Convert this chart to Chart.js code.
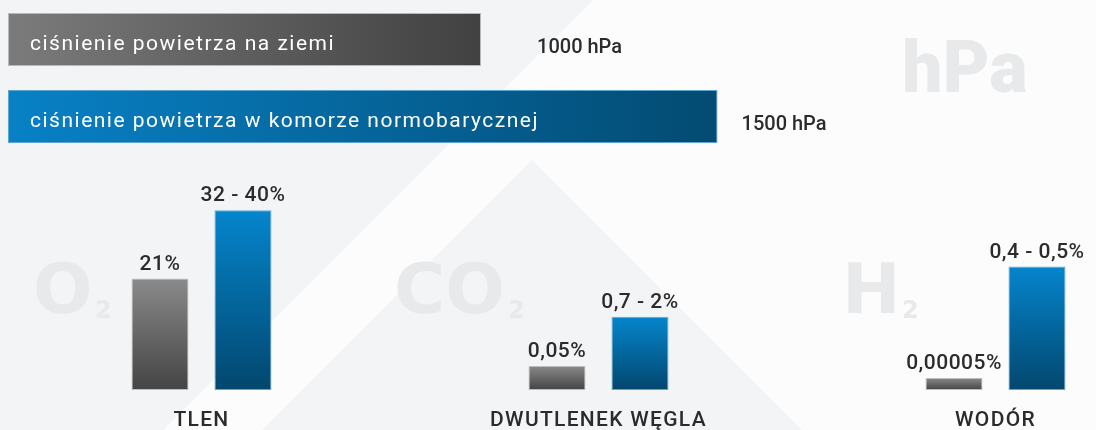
<!DOCTYPE html>
<html>
<head>
<meta charset="utf-8">
<script src="https://cdn.jsdelivr.net/npm/chart.js@4.4.1/dist/chart.umd.min.js"></script>
<style>
  html, body { margin: 0; padding: 0; width: 1096px; height: 430px; overflow: hidden; background: #f3f4f6; }
  #topChart { position: absolute; left: 0; top: 0; }
  #gasChart { position: absolute; left: 3px; top: 160px; }
</style>
</head>
<body>
<canvas id="topChart" width="1096" height="160"></canvas>
<canvas id="gasChart" width="1191" height="291"></canvas>
<script>
// ---------------- DATA ----------------
const pressureLabels = ['ciśnienie powietrza na ziemi', 'ciśnienie powietrza w komorze normobarycznej'];
const pressureValues = [1000, 1500];
const pressureValueLabels = ['1000 hPa', '1500 hPa'];

const gasCategories = ['TLEN', 'DWUTLENEK WĘGLA', 'WODÓR'];
// drawn bar heights (relative units; bars are illustrative, not to scale)
const groundHeights = [62, 13.4, 6.7];
const chamberHeights = [100, 40.8, 68.7];
const groundLabels = ['21%', '0,05%', '0,00005%'];
const chamberLabels = ['32 - 40%', '0,7 - 2%', '0,4 - 0,5%'];

// ---------------- STYLE ----------------
const TEXT = '#2b2b2b';
const GRAY_H = ['#7b7b7b', '#414141'];
const BLUE_H = ['#0881c6', '#034b72'];
const GRAY_V = ['#8a8a8a', '#444444'];
const BLUE_V = ['#0585cc', '#02476e'];
const valueGap = [56, 24];

function paintBackground(ctx, ox, oy) {
  ctx.save();
  ctx.translate(-ox, -oy);
  ctx.fillStyle = '#f3f4f6';
  ctx.fillRect(0, 0, 1300, 460);
  ctx.fillStyle = '#fcfcfd';
  ctx.beginPath();
  ctx.moveTo(593, 0); ctx.lineTo(1300, 0); ctx.lineTo(1300, 460); ctx.lineTo(133, 460);
  ctx.closePath(); ctx.fill();
  ctx.fillStyle = '#f3f4f6';
  ctx.beginPath();
  ctx.moveTo(532, 160); ctx.lineTo(832, 460); ctx.lineTo(232, 460);
  ctx.closePath(); ctx.fill();
  // watermarks
  ctx.fillStyle = '#e8e9ea';
  ctx.textBaseline = 'alphabetic';
  ctx.textAlign = 'left';
  ctx.letterSpacing = '0px';
  ctx.font = '900 72px Roboto';
  ctx.fillText('hPa', 902, 92);
  ctx.font = 'bold 70px "DejaVu Sans"';
  ctx.fillText('O', 33, 313);
  ctx.fillText('CO', 394, 313);
  ctx.fillText('H', 842, 313);
  ctx.font = 'bold 24px "DejaVu Sans"';
  ctx.fillText('2', 95, 318);
  ctx.fillText('2', 508, 318);
  ctx.fillText('2', 902, 318);
  ctx.restore();
}

// ---------------- TOP CHART (pressure) ----------------
function hGradient(context) {
  const chart = context.chart;
  const cols = context.dataIndex === 0 ? GRAY_H : BLUE_H;
  if (!chart.chartArea) return cols[1];
  const xs = chart.scales.x;
  const x0 = xs.getPixelForValue(0), x1 = xs.getPixelForValue(context.raw);
  const g = chart.ctx.createLinearGradient(x0, 0, x1, 0);
  g.addColorStop(0, cols[0]); g.addColorStop(1, cols[1]);
  return g;
}

new Chart(document.getElementById('topChart'), {
  type: 'bar',
  data: {
    labels: pressureLabels,
    datasets: [{
      data: pressureValues,
      backgroundColor: hGradient,
      borderColor: (c) => c.dataIndex === 0 ? '#b9b9b9' : '#5ea6d2',
      borderWidth: 1,
      borderSkipped: false,
      categoryPercentage: 1,
      barPercentage: 0.688
    }]
  },
  options: {
    indexAxis: 'y',
    responsive: false,
    animation: false,
    layout: { padding: { left: 8, right: 0, top: 1, bottom: 5 } },
    plugins: { legend: { display: false }, tooltip: { enabled: false } },
    scales: {
      x: { display: false, min: 0, max: 2300 },
      y: { display: false }
    }
  },
  plugins: [{
    id: 'topDeco',
    beforeDraw(chart) { paintBackground(chart.ctx, 0, 0); },
    afterDatasetsDraw(chart) {
      const ctx = chart.ctx;
      const meta = chart.getDatasetMeta(0);
      ctx.save();
      ctx.textBaseline = 'alphabetic';
      ctx.textAlign = 'left';
      meta.data.forEach((bar, i) => {
        ctx.fillStyle = '#ffffff';
        ctx.font = '21px Roboto';
        ctx.letterSpacing = '1.5px';
        ctx.fillText(pressureLabels[i], bar.base + 22, bar.y + 10);
        ctx.fillStyle = TEXT;
        ctx.font = '500 20px Roboto';
        ctx.letterSpacing = '0px';
        ctx.fillText(pressureValueLabels[i], bar.x + valueGap[i], bar.y + 13.5);
      });
      ctx.restore();
    }
  }]
});

// ---------------- BOTTOM CHART (gases) ----------------
function vGradient(cols) {
  return function (context) {
    const chart = context.chart;
    if (!chart.chartArea) return cols[1];
    const ys = chart.scales.y;
    const y0 = ys.getPixelForValue(context.raw), y1 = ys.getPixelForValue(0);
    const g = chart.ctx.createLinearGradient(0, y0, 0, y1);
    g.addColorStop(0, cols[0]); g.addColorStop(1, cols[1]);
    return g;
  };
}

new Chart(document.getElementById('gasChart'), {
  type: 'bar',
  data: {
    labels: gasCategories,
    datasets: [
      { label: 'na ziemi', data: groundHeights, backgroundColor: vGradient(GRAY_V), borderColor: '#bdbdbd', borderWidth: 1, borderSkipped: false },
      { label: 'w komorze', data: chamberHeights, backgroundColor: vGradient(BLUE_V), borderColor: '#5ea6d2', borderWidth: 1, borderSkipped: false }
    ]
  },
  options: {
    responsive: false,
    animation: false,
    layout: { padding: 0 },
    datasets: { bar: { categoryPercentage: 0.418, barPercentage: 0.687 } },
    plugins: { legend: { display: false }, tooltip: { enabled: false } },
    scales: {
      x: {
        grid: { display: false, drawTicks: false },
        border: { display: false },
        ticks: { padding: 20, color: TEXT, font: { family: 'Roboto', size: 21, weight: '500', lineHeight: 1 } }
      },
      y: { display: false, min: 0, max: 128 }
    }
  },
  plugins: [{
    id: 'gasDeco',
    beforeDraw(chart) {
      paintBackground(chart.ctx, 3, 160);
      chart.ctx.letterSpacing = '1.3px';
    },
    afterDatasetsDraw(chart) {
      const ctx = chart.ctx;
      ctx.save();
      ctx.textBaseline = 'alphabetic';
      ctx.textAlign = 'center';
      ctx.fillStyle = TEXT;
      ctx.font = '500 21px Roboto';
      ctx.letterSpacing = '0.5px';
      [groundLabels, chamberLabels].forEach((labels, di) => {
        chart.getDatasetMeta(di).data.forEach((bar, i) => {
          ctx.fillText(labels[i], bar.x, bar.y - 9);
        });
      });
      ctx.restore();
    }
  }]
});
</script>
</body>
</html>
